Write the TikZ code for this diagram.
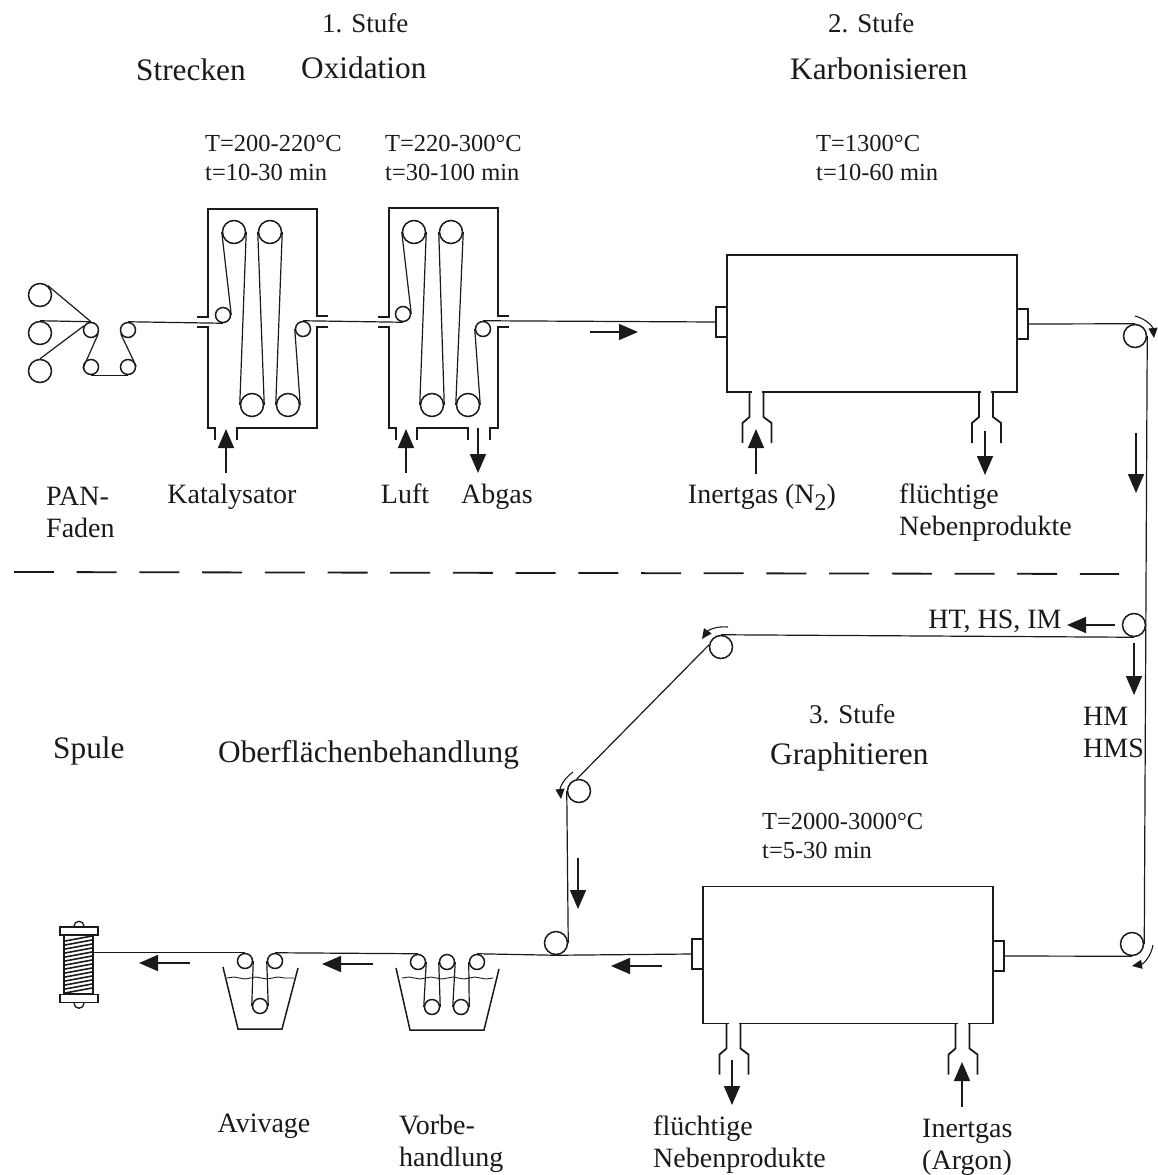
\documentclass[tikz,border=0pt]{standalone}
\usepackage{fontspec}
\setmainfont{Liberation Serif}
\usetikzlibrary{arrows.meta,positioning,decorations.pathmorphing}
\definecolor{ink}{HTML}{1A1A1A}
\newcommand{\fsLarge}{\fontsize{31.3}{36}\selectfont}
\newcommand{\fsMid}{\fontsize{28}{32}\selectfont}
\newcommand{\fsSmall}{\fontsize{24.5}{29}\selectfont}

\begin{document}
\begin{tikzpicture}[
  x=1pt, y=-1pt,
  >=Stealth,
  every node/.style={text=ink},
  bigroller/.style={circle, draw=ink, line width=1.5pt, inner sep=0pt, minimum size=23pt},
  smallroller/.style={circle, draw=ink, line width=1.5pt, inner sep=0pt, minimum size=15pt},
  thread/.style={draw=ink, line width=1.2pt},
  wall/.style={draw=ink, line width=1.8pt},
  furnace/.style={wall, rectangle, inner sep=0pt, minimum width=290pt, minimum height=137pt},
  flange/.style={draw=ink, line width=1.3pt, rectangle, inner sep=0pt, minimum width=11pt, minimum height=30pt},
  flow/.style={draw=ink, line width=1.6pt, -{Stealth[inset=0pt, length=19pt, width=16pt]}},
  turn/.style={draw=ink, line width=1.1pt, -{Stealth[inset=0pt, length=10pt, width=9pt]}},
  label/.style={font=\fsMid, align=left, inner sep=0pt},
  title/.style={font=\fsLarge, inner sep=0pt, anchor=base west},
  stage/.style={font=\fontsize{27}{32}\selectfont, inner sep=0pt, anchor=base west},
  data/.style={font=\fsSmall, align=left, inner sep=0pt, anchor=west},
  nozzle/.pic={
    \draw[white, line width=3pt] (-5,0) -- (5,0);
    \draw[wall] (-7,0) -- (-7,25) -- (-14,31) -- (-14,51);
    \draw[wall] (7,0) -- (7,25) -- (15,31) -- (15,51);
  },
]
\useasboundingbox (0,0) rectangle (1157,1175);

\node[stage] (stufeA) at (322,32) {1. Stufe};
\node[stage] (stufeB) at (828,32) {2. Stufe};
\node[title] (strecken) at (136,80) {Strecken};
\node[title] (oxidation) at (301,78) {Oxidation};
\node[title] (karbon) at (790,79) {Karbonisieren};
\node[data] (condA) at (205,158) {T=200-220°C\\t=10-30 min};
\node[data] (condB) at (385,158) {T=220-300°C\\t=30-100 min};
\node[data] (condC) at (816,158) {T=1300°C\\t=10-60 min};

\node[bigroller] (feedA) at (40,295) {};
\node[bigroller] (feedB) at (40,333) {};
\node[bigroller] (feedC) at (40,371) {};
\node[smallroller] (godetA) at (91,330) {};
\node[smallroller] (godetB) at (128,330) {};
\node[smallroller] (godetC) at (91,367) {};
\node[smallroller] (godetD) at (128,367) {};

\node[smallroller] (inA) at (223,315) {};
\node[bigroller] (topA) at (234,232) {};
\node[bigroller] (topB) at (270,232) {};
\node[bigroller] (lowA) at (252,405) {};
\node[bigroller] (lowB) at (288,405) {};
\node[smallroller] (outA) at (303,329) {};

\node[smallroller] (inB) at (403,314) {};
\node[bigroller] (topC) at (414,232) {};
\node[bigroller] (topD) at (451,232) {};
\node[bigroller] (lowC) at (432,405) {};
\node[bigroller] (lowD) at (468,405) {};
\node[smallroller] (outB) at (483,329) {};

\node[furnace] (karbonofen) at (872,323.5) {};
\node[flange] (karbonIn) at (721.5,322) {};
\node[flange] (karbonOut) at (1022.5,324) {};
\pic at (756.5,392) {nozzle};
\pic at (986,392) {nozzle};

\node[furnace] (graphitofen) at (848,955) {};
\node[flange] (graphitOut) at (697.5,954) {};
\node[flange] (graphitIn) at (998.5,956) {};
\pic at (733.5,1023.5) {nozzle};
\pic at (962.5,1023.5) {nozzle};

\node[bigroller] (umlenkA) at (1135,336) {};
\node[bigroller] (umlenkB) at (1134,625) {};
\node[bigroller] (umlenkC) at (1132,944) {};
\node[bigroller] (umlenkD) at (721,647) {};
\node[bigroller] (umlenkE) at (579,791) {};
\node[bigroller] (umlenkF) at (556,943) {};

\node[smallroller] (bathBa) at (418,962) {};
\node[smallroller] (bathBb) at (447,962) {};
\node[smallroller] (bathBc) at (477,962) {};
\node[smallroller] (bathBd) at (432,1007) {};
\node[smallroller] (bathBe) at (461,1007) {};
\node[smallroller] (bathAa) at (245,961) {};
\node[smallroller] (bathAb) at (275,961) {};
\node[smallroller] (bathAc) at (260,1006) {};

\node[draw=ink, line width=1.5pt, inner sep=0pt, minimum width=29pt, minimum height=59pt] (spool) at (78.5,964.5) {};
\node[draw=ink, line width=1.5pt, fill=white, inner sep=0pt, minimum width=38pt, minimum height=8pt] (spoolTop) at (79,931) {};
\node[draw=ink, line width=1.5pt, fill=white, inner sep=0pt, minimum width=38pt, minimum height=8pt] (spoolBot) at (79,998.5) {};
\draw[draw=ink, line width=1.3pt] (spoolTop.north) ++(-5,0) arc[start angle=180, end angle=0, radius=5pt];
\draw[draw=ink, line width=1.3pt] (spoolBot.south) ++(-5,0) arc[start angle=180, end angle=360, radius=5pt];
\foreach \yy in {941,945,...,993}
  \draw[draw=ink, line width=1.6pt] (65,\yy) -- (92,\yy-5);

\draw[thread] (feedA.50) -- (godetA.north);
\draw[thread] (feedB.north) -- (godetA.north);
\draw[thread] (feedC.90) -- (godetA.150);
\draw[thread] (godetA.-30) -- (godetC.190);
\draw[thread] (godetC.south) -- (godetD.south);
\draw[thread] (godetD.5) -- (godetB.210);
\draw[thread] (godetB.north) -- (inA.south);
\draw[thread] (inA.east) -- (topA.west);
\draw[thread] (topA.east) -- (lowA.west);
\draw[thread] (lowA.east) -- (topB.west);
\draw[thread] (topB.east) -- (lowB.west);
\draw[thread] (lowB.east) -- (outA.west);
\draw[thread] (outA.north) -- (inB.south);
\draw[thread] (inB.east) -- (topC.west);
\draw[thread] (topC.east) -- (lowC.west);
\draw[thread] (lowC.east) -- (topD.west);
\draw[thread] (topD.east) -- (lowD.west);
\draw[thread] (lowD.east) -- (outB.west);
\draw[thread] (outB.north) -- (karbonIn.west);
\draw[thread] (karbonOut.east) -- (umlenkA.north);
\draw[thread] (umlenkA.east) -- (umlenkC.east);
\draw[thread] (umlenkB.south) -- (umlenkD.north);
\draw[thread] (umlenkD.170) -- (umlenkE.100);
\draw[thread] (umlenkE.west) -- (umlenkF.east);
\draw[thread] (umlenkC.south) -- (graphitIn.east);
\draw[thread] (graphitOut.west) -- (umlenkF.south);
\draw[thread] (umlenkF.south) -- (bathBc.north);
\draw[thread] (bathBc.west) -- (bathBe.east);
\draw[thread] (bathBe.west) -- (bathBb.east);
\draw[thread] (bathBb.west) -- (bathBd.east);
\draw[thread] (bathBd.west) -- (bathBa.east);
\draw[thread] (bathBa.north) -- (bathAb.north);
\draw[thread] (bathAb.west) -- (bathAc.east);
\draw[thread] (bathAc.west) -- (bathAa.east);
\draw[thread] (bathAa.north) -- (spool.east |- bathAa.north);

\draw[wall] (197,317) -- (208,317) -- (208,209) -- (317,209) -- (317,316) -- (328,316);
\draw[wall] (197,327) -- (208,327) -- (208,428) -- (215,428) -- (215,440);
\draw[wall] (237,440) -- (237,428) -- (317,428) -- (317,327) -- (328,327);
\draw[wall] (378,317) -- (389,317) -- (389,208) -- (498,208) -- (498,316) -- (509,316);
\draw[wall] (378,327) -- (389,327) -- (389,428) -- (396,428) -- (396,440);
\draw[wall] (417,440) -- (417,428) -- (468,428) -- (468,440);
\draw[wall] (490,440) -- (490,428) -- (498,428) -- (498,327) -- (509,327);

\draw[draw=ink, line width=1.5pt] (223,967) -- (238,1029) -- (282,1029) -- (298,968);
\draw[draw=ink, line width=1.5pt] (396,968) -- (410,1030) -- (484,1030) -- (499,969);
\draw[draw=ink, line width=0.9pt, decorate, decoration={snake, amplitude=1pt, segment length=22pt}] (227,978) -- (294,978);
\draw[draw=ink, line width=0.9pt, decorate, decoration={snake, amplitude=1pt, segment length=22pt}] (402,978) -- (493,978);

\coordinate (katA) at (226,473);
\coordinate (katB) at (226,429);
\draw[flow] (katA) -- (katB);
\coordinate (luftA) at (406,473);
\coordinate (luftB) at (406,429);
\draw[flow] (luftA) -- (luftB);
\coordinate (abgasA) at (478,428);
\coordinate (abgasB) at (478,473);
\draw[flow] (abgasA) -- (abgasB);
\coordinate (inertA) at (756,474);
\coordinate (inertB) at (756,429);
\draw[flow] (inertA) -- (inertB);
\coordinate (nebenA) at (985,431);
\coordinate (nebenB) at (985,475);
\draw[flow] (nebenA) -- (nebenB);
\coordinate (nebenC) at (732,1060);
\coordinate (nebenD) at (732,1105);
\draw[flow] (nebenC) -- (nebenD);
\coordinate (argonA) at (962,1107);
\coordinate (argonB) at (962,1062);
\draw[flow] (argonA) -- (argonB);
\coordinate (flowAa) at (590,332);
\coordinate (flowAb) at (638,332);
\draw[flow] (flowAa) -- (flowAb);
\coordinate (flowBa) at (1136,433);
\coordinate (flowBb) at (1136,493);
\draw[flow] (flowBa) -- (flowBb);
\coordinate (flowCa) at (1115,625);
\coordinate (flowCb) at (1067,625);
\draw[flow] (flowCa) -- (flowCb);
\coordinate (flowDa) at (1134,643);
\coordinate (flowDb) at (1134,695);
\draw[flow] (flowDa) -- (flowDb);
\coordinate (flowEa) at (578,858);
\coordinate (flowEb) at (578,909);
\draw[flow] (flowEa) -- (flowEb);
\coordinate (flowFa) at (662,966);
\coordinate (flowFb) at (611,966);
\draw[flow] (flowFa) -- (flowFb);
\coordinate (flowGa) at (373,964);
\coordinate (flowGb) at (322,964);
\draw[flow] (flowGa) -- (flowGb);
\coordinate (flowHa) at (190,963);
\coordinate (flowHb) at (139,963);
\draw[flow] (flowHa) -- (flowHb);

\coordinate (turnAa) at (1135,316);
\coordinate (turnAb) at (1154,338);
\draw[turn] (turnAa) to[bend left=35] (turnAb);
\coordinate (turnBa) at (1153,945);
\coordinate (turnBb) at (1132,966);
\draw[turn] (turnBa) to[bend left=35] (turnBb);
\coordinate (turnCa) at (728,627);
\coordinate (turnCb) at (702,639);
\draw[turn] (turnCa) to[bend right=30] (turnCb);
\coordinate (turnDa) at (573,772);
\coordinate (turnDb) at (561,799);
\draw[turn] (turnDa) to[bend right=30] (turnDb);

\draw[draw=ink, line width=1.8pt, dash pattern=on 40pt off 22.7pt] (14,572) -- (1119,574);

\node[label, anchor=west] (pan) at (46,512) {PAN-\\Faden};
\node[label] (katalysator) at (232,497) {Katalysator};
\node[label] (luft) at (405,494) {Luft};
\node[label] (abgas) at (497,497) {Abgas};
\node[label] (inertN) at (762,497) {Inertgas (N\raisebox{-7pt}{\fontsize{24}{24}\selectfont 2})};
\node[label, anchor=west] (nebenOben) at (899,513) {flüchtige\\Nebenprodukte};
\node[label] (hths) at (995,621) {HT, HS, IM};
\node[label, anchor=west] (hmhms) at (1083,732) {HM\\HMS};
\node[stage] (stufeC) at (809,723) {3. Stufe};
\node[title] (graphit) at (770,764) {Graphitieren};
\node[title] (spule) at (53,758) {Spule};
\node[title] (oberflaeche) at (218,762) {Oberflächenbehandlung};
\node[data] (condD) at (762,836) {T=2000-3000°C\\t=5-30 min};
\node[label] (avivage) at (264,1126) {Avivage};
\node[label, anchor=west] (vorbe) at (399,1144) {Vorbe-\\handlung};
\node[label, anchor=west] (nebenUnten) at (653,1145) {flüchtige\\Nebenprodukte};
\node[label, anchor=west] (argon) at (922,1147) {Inertgas\\(Argon)};
\end{tikzpicture}
\end{document}
